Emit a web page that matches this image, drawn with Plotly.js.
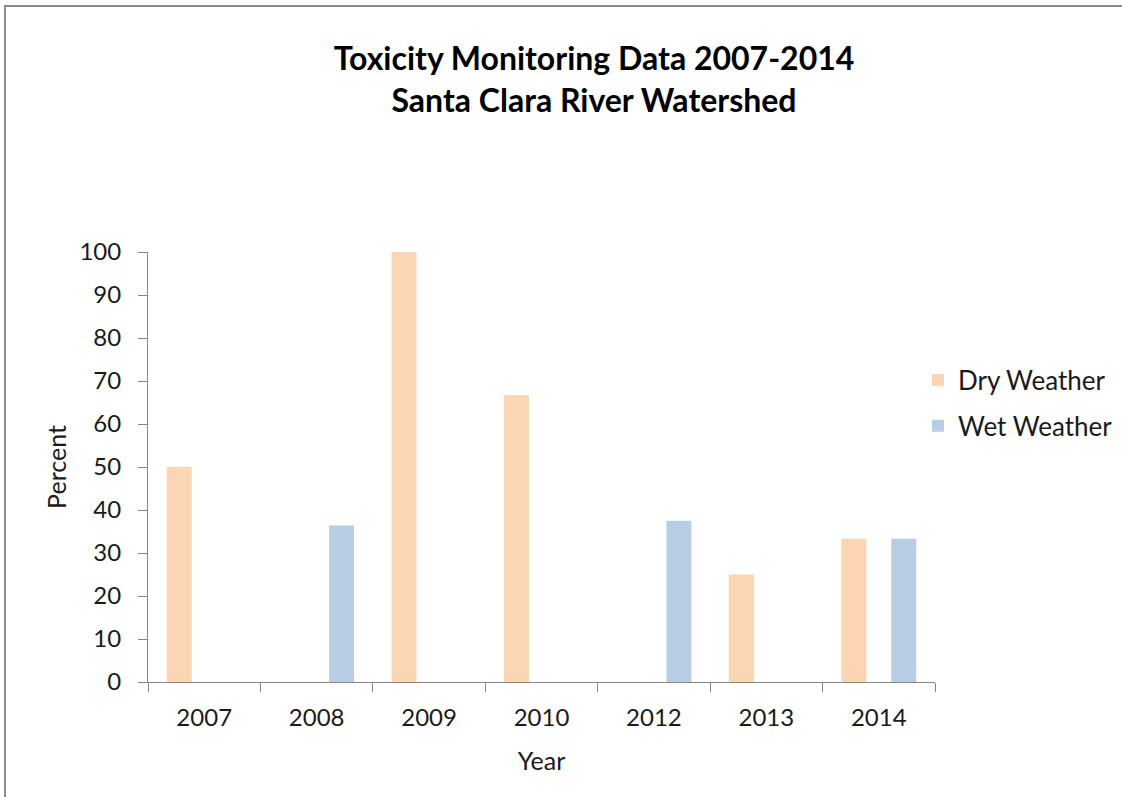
<!DOCTYPE html>
<html><head><meta charset="utf-8">
<script src="https://cdn.plot.ly/plotly-3.0.1.min.js"></script>
<style>
html,body{margin:0;padding:0;background:#fff;overflow:hidden;}
#chart{width:1122px;height:797px;}
</style></head>
<body><div id="chart"></div>
<script>
const years = ['2007','2008','2009','2010','2012','2013','2014'];
const dryWeather = [50, null, 100, 66.7, null, 25, 33.3];
const wetWeather = [null, 36.4, null, null, 37.5, null, 33.3];
const seriesNames = ['Dry Weather', 'Wet Weather'];
const yTicks = [0,10,20,30,40,50,60,70,80,90,100];

const font = "Lato, 'Open Sans', sans-serif";
const traces = [
  {type:'bar', x:years, y:dryWeather, name:seriesNames[0], legendgroup:'a', marker:{color:'#FCD5B5'}},
  {type:'bar', x:years, y:wetWeather, name:seriesNames[1], legendgroup:'b', marker:{color:'#B9CDE5'}}
];
const L = 148, R = 935, T = 252, B = 682;
const px = v => (v - L) / (R - L);
const py = v => (B - v) / (B - T);
const frameColor = '#8c8c8c';
const layout = {
  width:1122, height:797,
  margin:{l:L, r:1122-R, t:T, b:797-B, autoexpand:false},
  paper_bgcolor:'#fff', plot_bgcolor:'#fff',
  font:{family:font, color:'#1a1a1a', size:24},
  barmode:'group', bargap:0.111, bargroupgap:0.5,
  showlegend:true,
  title:{text:'<b>Toxicity Monitoring Data 2007-2014<br>Santa Clara River Watershed</b>',
    font:{family:font, size:32, color:'#000'}, xref:'container', x:594/1122, xanchor:'center',
    yref:'container', y:1-70/797, yanchor:'middle'},
  legend:{x:918/1122, xref:'container', y:1-403/797, yref:'container', yanchor:'middle', xanchor:'left',
    font:{family:font, size:26, color:'#1a1a1a'}, traceorder:'grouped', tracegroupgap:9, itemwidth:30, bgcolor:'rgba(0,0,0,0)'},
  xaxis:{type:'category', tickson:'boundaries', ticks:'outside', ticklen:9, tickcolor:'#868686', tickwidth:1,
    showline:true, linecolor:'#868686', linewidth:1, showgrid:false, zeroline:false, automargin:false,
    tickfont:{family:font, size:24, color:'#1a1a1a'}, ticklabelstandoff:14,
    title:{text:'Year', font:{family:font, size:25, color:'#1a1a1a'}, standoff:22}},
  yaxis:{range:[0,100], tickvals:yTicks, ticks:'outside', ticklen:9, tickcolor:'#868686', tickwidth:1,
    showline:true, linecolor:'#868686', linewidth:1, showgrid:false, zeroline:false, automargin:false,
    tickfont:{family:font, size:24, color:'#1a1a1a'}, ticklabelstandoff:12,
    title:{text:'Percent', font:{family:font, size:25, color:'#1a1a1a'}, standoff:5}},
  shapes:[
    {type:'line', xref:'paper', yref:'paper', x0:px(4), x1:px(1130), y0:py(6), y1:py(6), line:{color:frameColor, width:2}},
    {type:'line', xref:'paper', yref:'paper', x0:px(5), x1:px(5), y0:py(5), y1:py(820), line:{color:frameColor, width:2}}
  ]
};
Plotly.newPlot('chart', traces, layout, {displayModeBar:false, staticPlot:true});
</script></body></html>
